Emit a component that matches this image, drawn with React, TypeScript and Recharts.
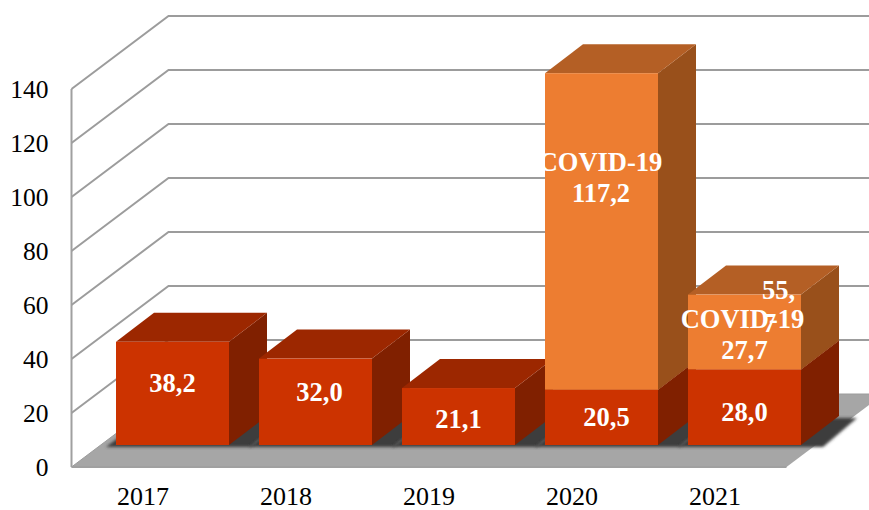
import { Bar, BarChart, CartesianGrid, LabelList, XAxis, YAxis } from 'recharts';

const years = ['2017', '2018', '2019', '2020', '2021'];
const baseValues = [38.2, 32.0, 21.1, 20.5, 28.0];
const covidValues = [null, null, null, 117.2, 27.7];
const totalLabels = [null, null, null, null, 55.7];
const covidName = 'COVID-19';
const yTicks = [0, 20, 40, 60, 80, 100, 120, 140];

const data = years.map((year, i) => ({
  year,
  base: baseValues[i],
  covid: covidValues[i],
  total: totalLabels[i],
}));

// 3D look: the back wall sits up and right of the axis plane, bars stand between them
const WALL_DX = 97;
const WALL_DY = 73;
const BAR_DX = 29.5;
const BAR_DY = 22;
const DEPTH_X = 38;
const DEPTH_Y = 29;

const FONT = '"Liberation Serif", serif';
const LABEL_SIZE = 26.5;
const baseNudge = [
  [0, -10],
  [4, -10],
  [0, 2],
  [5, 0],
  [0, 5],
];

const comma = (v: number) => v.toFixed(1).replace('.', ',');
const pts = (list: number[][]) => list.map((p) => p.join(',')).join(' ');

const WallLine = (props: any) => {
  const { x1, y1, x2, y, height } = props;
  const isFloor = Math.abs(y1 - (y + height)) < 1;
  return (
    <g>
      {isFloor && (
        <polygon
          points={pts([
            [x1, y1],
            [x2, y1],
            [x2 + WALL_DX, y1 - WALL_DY],
            [x1 + WALL_DX, y1 - WALL_DY],
          ])}
          fill="#a6a6a6"
        />
      )}
      <polyline
        points={pts([
          [x1, y1],
          [x1 + WALL_DX, y1 - WALL_DY],
          [x2 + WALL_DX, y1 - WALL_DY],
        ])}
        fill="none"
        stroke="#9c9c9c"
        strokeWidth={isFloor ? 1 : 2}
      />
    </g>
  );
};

const Box = ({ x, y, width, height, front, top, side }: any) => {
  const l = x + BAR_DX;
  const r = l + width;
  const t = y - BAR_DY;
  const b = t + height;
  return (
    <g>
      <polygon
        points={pts([
          [r, t],
          [r + DEPTH_X, t - DEPTH_Y],
          [r + DEPTH_X, b - DEPTH_Y],
          [r, b],
        ])}
        fill={side}
      />
      <polygon
        points={pts([
          [l, t],
          [l + DEPTH_X, t - DEPTH_Y],
          [r + DEPTH_X, t - DEPTH_Y],
          [r, t],
        ])}
        fill={top}
      />
      <rect x={l} y={t} width={width} height={height} fill={front} />
    </g>
  );
};

const BaseShape = (props: any) => {
  const { x, y, width, height } = props;
  const l = x + BAR_DX;
  const r = l + width;
  const b = y - BAR_DY + height;
  return (
    <g>
      <polygon
        points={pts([
          [l - 10, b + 2],
          [r + 22, b + 2],
          [r + DEPTH_X + 18, b - DEPTH_Y + 2],
          [l + DEPTH_X - 10, b - DEPTH_Y + 2],
        ])}
        fill="#3c3c3c"
        filter="url(#floorBlur)"
      />
      <Box {...props} front="#cc3300" top="#9c2700" side="#802000" />
    </g>
  );
};

const CovidShape = (props: any) => {
  if (!props.height) return null;
  return <Box {...props} front="#ed7d31" top="#b45f25" side="#99501b" />;
};

const labelText = {
  fill: '#fff',
  fontFamily: FONT,
  fontSize: LABEL_SIZE,
  fontWeight: 700,
  textAnchor: 'middle',
  dominantBaseline: 'central',
} as const;

const BaseLabel = (props: any) => {
  const { index, value } = props;
  const box = props.viewBox ?? props;
  const [nx, ny] = baseNudge[index];
  return (
    <text
      {...labelText}
      x={box.x + BAR_DX + box.width / 2 + nx}
      y={box.y - BAR_DY + box.height / 2 + ny}
    >
      {comma(value)}
    </text>
  );
};

const CovidLabel = (props: any) => {
  const { index, value } = props;
  if (value == null) return null;
  const box = props.viewBox ?? props;
  const cx = box.x + BAR_DX + box.width / 2;
  const mid = box.y - BAR_DY + box.height / 2;
  const total = totalLabels[index];
  // the 2021 label sits a little lower than the middle, the 2020 one higher
  const cy = total != null ? mid + 2 : mid - 54;
  return (
    <g>
      <text {...labelText} x={cx - (total != null ? 2 : 1)} y={cy - 15}>
        {covidName}
      </text>
      <text {...labelText} x={cx - (total != null ? 0 : 0.5)} y={cy + 16}>
        {comma(value)}
      </text>
      {total != null && (
        <g>
          <text {...labelText} x={cx + 34} y={cy - 44}>
            {comma(total).slice(0, 3)}
          </text>
          <text {...labelText} x={cx + 25} y={cy - 11}>
            {comma(total).slice(3)}
          </text>
        </g>
      )}
    </g>
  );
};

export default function App() {
  return (
    <div style={{ position: 'absolute', left: 0, top: 0 }}>
      <BarChart
        width={869}
        height={510}
        data={data}
        margin={{ top: 89, right: 82.5, bottom: 0, left: 0 }}
        barSize={113}
      >
        <defs>
          <filter id="floorBlur" x="-20%" y="-40%" width="140%" height="180%">
            <feGaussianBlur stdDeviation="1.5" />
          </filter>
        </defs>
        <CartesianGrid vertical={false} horizontal={WallLine} />
        <XAxis
          dataKey="year"
          height={43}
          tickLine={false}
          tickMargin={14}
          axisLine={{ stroke: '#a0a0a0', strokeWidth: 2 }}
          tick={{ fill: '#000', fontFamily: FONT, fontSize: 26 }}
        />
        <YAxis
          width={71.5}
          domain={[0, 140]}
          ticks={yTicks}
          interval={0}
          tickLine={false}
          tickMargin={17}
          axisLine={{ stroke: '#a0a0a0', strokeWidth: 2 }}
          tick={{ fill: '#000', fontFamily: FONT, fontSize: 25.5 }}
        />
        <Bar dataKey="base" stackId="a" shape={BaseShape} isAnimationActive={false}>
          <LabelList dataKey="base" content={BaseLabel} />
        </Bar>
        <Bar dataKey="covid" stackId="a" shape={CovidShape} isAnimationActive={false}>
          <LabelList dataKey="covid" content={CovidLabel} />
        </Bar>
      </BarChart>
    </div>
  );
}
